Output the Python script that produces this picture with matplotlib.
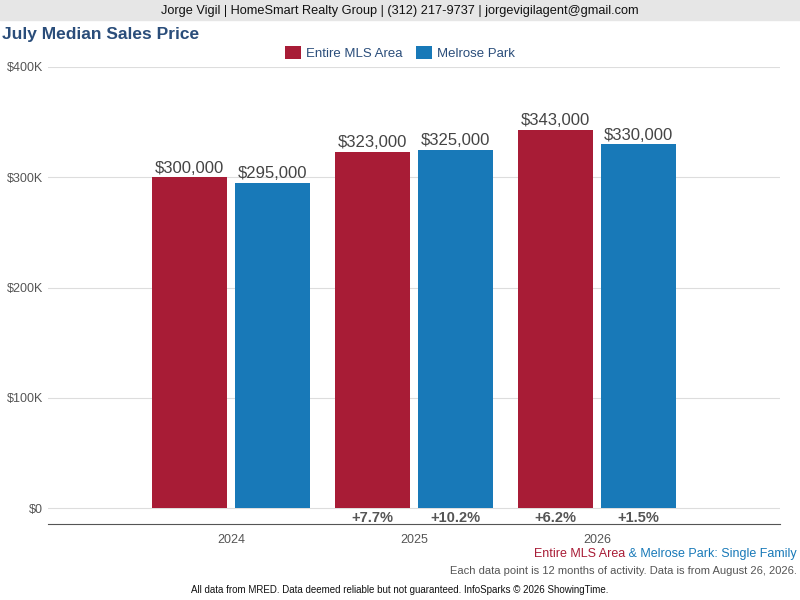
import matplotlib
matplotlib.use("Agg")
import matplotlib.pyplot as plt
from matplotlib.patches import Rectangle

plt.rcParams['font.family'] = ['Liberation Sans', 'DejaVu Sans']

years = ["2024", "2025", "2026"]
mls = [300000, 323000, 343000]
melrose = [295000, 325000, 330000]
mls_chg = ["", "+7.7%", "+6.2%"]
mel_chg = ["", "+10.2%", "+1.5%"]
yticks = [0, 100000, 200000, 300000, 400000]
ylabels = ["$0", "$100K", "$200K", "$300K", "$400K"]
RED, BLUE = "#a81c36", "#1879b8"

W, H = 800, 600
fig = plt.figure(figsize=(8, 6), dpi=100)
fig.patch.set_facecolor("white")
fig.patches.append(Rectangle((0, 1 - 20/H), 1, 20/H, transform=fig.transFigure, color="#e6e6e6", zorder=0))
fig.text(0.5, 1 - 11/H, "Jorge Vigil | HomeSmart Realty Group | (312) 217-9737 | jorgevigilagent@gmail.com",
         ha="center", va="center", fontsize=9.2, color="#111111")
fig.text(2/W, 1 - 35/H, "July Median Sales Price", ha="left", va="center", fontsize=12.5,
         fontweight="bold", color="#2a4d7a")

ax = fig.add_axes([48/W, 1 - 524/H, 732/W, (524 - 67)/H])
xs = range(len(years))
off, w = 0.225, 0.41
b1 = ax.bar([x - off for x in xs], mls, w, color=RED, label="Entire MLS Area", zorder=3)
b2 = ax.bar([x + off for x in xs], melrose, w, color=BLUE, label="Melrose Park", zorder=3)
for x, v in zip(xs, mls):
    ax.text(x - off, v + 1500, f"${v:,}", ha="center", va="bottom", fontsize=12, color="#444444")
for x, v in zip(xs, melrose):
    ax.text(x + off, v + 1500, f"${v:,}", ha="center", va="bottom", fontsize=12, color="#444444")
for x, c in zip(xs, mls_chg):
    ax.text(x - off, -9500, c, ha="center", va="center", fontsize=10.5, fontweight="bold", color="#555555")
for x, c in zip(xs, mel_chg):
    ax.text(x + off, -9500, c, ha="center", va="center", fontsize=10.5, fontweight="bold", color="#555555")

ax.set_xlim(-1, 3)
ax.set_ylim(-14500, 400000)
ax.set_yticks(yticks)
ax.set_yticklabels(ylabels, fontsize=9, color="#555555")
ax.set_xticks(list(xs))
ax.set_xticklabels(years, fontsize=9, color="#555555")
ax.tick_params(axis="both", length=0)
ax.tick_params(axis="x", pad=7)
ax.grid(axis="y", color="#dddddd", lw=0.8, zorder=0)
for s in ["top", "right", "left"]:
    ax.spines[s].set_visible(False)
ax.spines["bottom"].set_color("#555555")

fig.legend(handles=[b1, b2], loc="center", bbox_to_anchor=(0.5, 1 - 53/H), ncol=2, frameon=False,
           fontsize=9.5, handlelength=1.2, handleheight=1.2, columnspacing=1.0, handletextpad=0.4,
           labelcolor="#2a4d7a")

tb = fig.text(797/W, 1 - 554/H, " & Melrose Park: Single Family", ha="right", va="center", fontsize=9, color=BLUE)
ax.annotate("Entire MLS Area", xy=(0, 0.5), xycoords=tb, ha="right", va="center", fontsize=9, color=RED,
            annotation_clip=False)
fig.text(797/W, 1 - 571/H, "Each data point is 12 months of activity. Data is from August 26, 2026.",
         ha="right", va="center", fontsize=8, color="#555555")
fig.text(0.5, 1 - 590/H, "All data from MRED. Data deemed reliable but not guaranteed. InfoSparks © 2026 ShowingTime.",
         ha="center", va="center", fontsize=7, color="#111111")
fig.savefig("out.png", dpi=100)
